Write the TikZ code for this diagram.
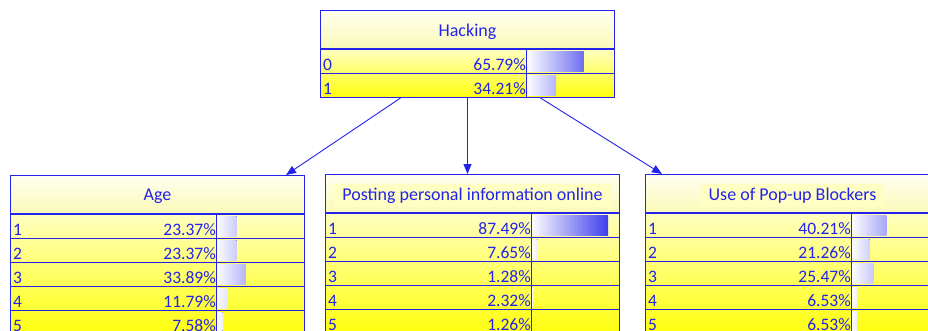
\documentclass[tikz,border=0pt]{standalone}
\usepackage{fontspec}
\setmainfont{Carlito}
\usetikzlibrary{positioning, calc, arrows.meta}
\definecolor{netblue}{RGB}{35,35,235}
\definecolor{titletop}{RGB}{255,255,240}
\definecolor{titlebot}{RGB}{250,250,185}
\definecolor{hilite}{RGB}{255,255,195}
\tikzset{
  titlebox/.style={draw=netblue, line width=1pt, minimum width=294pt,
    minimum height=38pt, inner sep=0pt, top color=titletop, bottom color=titlebot},
  rowbox/.style={draw=netblue, line width=1pt, minimum width=294pt,
    minimum height=24pt, inner sep=0pt},
  cell/.style={text=netblue, inner sep=0pt, font=\fontsize{17.5}{20}\selectfont},
  plain/.style={cell, font=\fontsize{18}{20}\selectfont},
  hl/.style={plain, fill=hilite, inner xsep=8pt, inner ysep=4pt},
  Link/.style={netblue, line width=0.9pt, -{Triangle[length=10pt,width=8pt]}},
}
% name, top left, title, title style, number of rows, rows
\newcommand{\cptable}[6]{%
  \node[titlebox, anchor=north west] (#1) at (#2) {};
  \node[#4] (#1-t) at ($(#1)+(0,2)$) {#3};
  \foreach \lab/\pct [count=\i] in {#6} {
    \pgfmathsetmacro\ta{25+70*(\i-1)/#5}
    \pgfmathsetmacro\tb{25+70*\i/#5}
    \node[rowbox, anchor=north west, top color=yellow!\ta!white,
      bottom color=yellow!\tb!white] (#1-\i) at ($(#1.south west)+(0,{24*(\i-1)})$) {};
    \fill[left color=white, right color=netblue!\pct!white]
      ($(#1-\i.north west)+(206,2)$) rectangle ++({0.88*\pct},20);
    \draw[netblue, line width=1pt] ($(#1-\i.north west)+(206,0)$) -- ($(#1-\i.south west)+(206,0)$);
    \node[cell, anchor=base west] (#1-\i-l) at ($(#1-\i.south west)+(3,-4)$) {\lab};
    \node[cell, anchor=base east] (#1-\i-p) at ($(#1-\i.south west)+(206,-4)$) {\pct\%};
  }
}

\begin{document}
\begin{tikzpicture}[x=1pt, y=-1pt]
  \clip (0,0) rectangle (928,330);
  \fill[white] (0,0) rectangle (928,330);

  \cptable{hack}{320,10}{Hacking}{plain}{2}{0/65.79, 1/34.21}
  \cptable{age}{10,175}{Age}{plain}{5}{1/23.37, 2/23.37, 3/33.89, 4/11.79, 5/7.58}
  \cptable{post}{325,174}{Posting personal information online}{hl}{5}{1/87.49, 2/7.65, 3/1.28, 4/2.32, 5/1.26}
  \cptable{popup}{645,174}{Use of Pop-up Blockers}{hl}{5}{1/40.21, 2/21.26, 3/25.47, 4/6.53, 5/6.53}

  \draw[Link] ($(hack-2.south)+(-67,0)$) -- ($(age.north east)+(-19,0)$);
  \draw[Link] (hack-2.south) -- (hack-2.south |- post.north);
  \draw[Link] ($(hack-2.south)+(73,0)$) -- ($(popup.north west)+(17,0)$);
\end{tikzpicture}
\end{document}
